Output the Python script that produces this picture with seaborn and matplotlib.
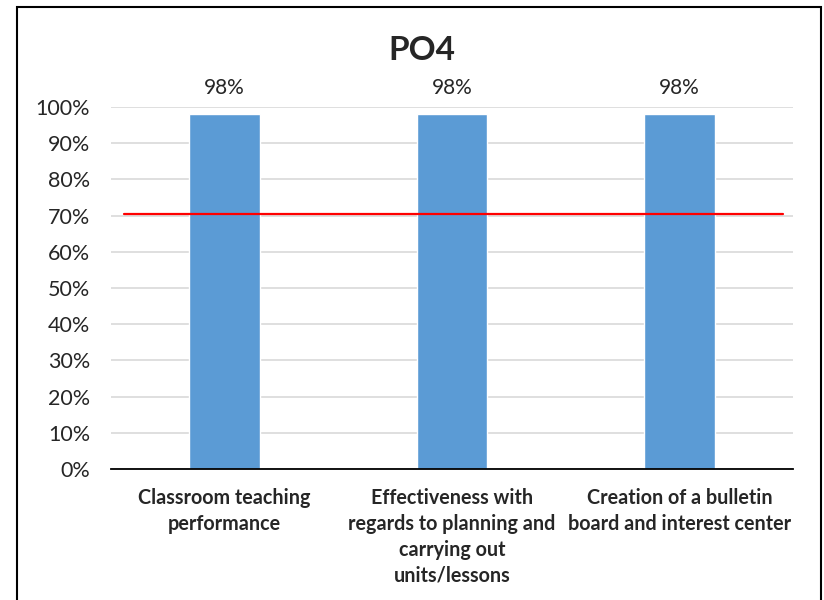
import matplotlib
matplotlib.use("Agg")
import matplotlib.pyplot as plt
import seaborn as sns
import pandas as pd
from matplotlib.patches import Rectangle

# chart data
categories = [
    "Classroom teaching\nperformance",
    "Effectiveness with\nregards to planning and\ncarrying out\nunits/lessons",
    "Creation of a bulletin\nboard and interest center",
]
scores = [98, 98, 98]
target = 70.5
y_ticks = [0, 10, 20, 30, 40, 50, 60, 70, 80, 90, 100]
tick_labels = [f"{t}%" for t in y_ticks]

df = pd.DataFrame({"item": categories, "score": scores})

sns.set_style("white")
plt.rcParams["font.family"] = ["Lato", "DejaVu Sans"]

fig = plt.figure(figsize=(8.24, 6), dpi=100)
ax = fig.add_axes([111 / 824, 1 - 469 / 600, (793 - 111) / 824, (469 - 107) / 600])

sns.barplot(data=df, x="item", y="score", color="#5B9BD5", width=0.31,
            saturation=1, ax=ax, zorder=2)

# gridlines
ax.set_ylim(0, 100)
ax.set_yticks(y_ticks)
ax.set_yticklabels(tick_labels, fontsize=15.5)
ax.yaxis.grid(True, color="#d9d9d9", linewidth=1.2, zorder=0)
ax.set_axisbelow(True)
ax.set_xlim(-0.5, 2.5)
ax.tick_params(axis="y", length=0, pad=15)
ax.tick_params(axis="x", length=0, pad=14)
for lbl in ax.get_xticklabels():
    lbl.set_fontweight("bold")
    lbl.set_fontsize(14.2)
    lbl.set_linespacing(1.36)
    lbl.set_verticalalignment("top")

for s in ["left", "right", "top"]:
    ax.spines[s].set_visible(False)
ax.spines["bottom"].set_color("black")
ax.spines["bottom"].set_linewidth(1.3)
ax.set_xlabel("")
ax.set_ylabel("")

# value labels
for i, v in enumerate(scores):
    ax.text(i, v + 4.5, f"{v}%", ha="center", va="bottom", fontsize=15)

# target line
ax.plot([-0.443, 2.456], [target, target], color="#ff0000", linewidth=1.6, zorder=3)

fig.text(422 / 824, 1 - 50 / 600, "PO4", ha="center", va="center",
         fontsize=24, fontweight="bold")

# chart border
fig.patches.append(Rectangle((17 / 824, -0.01), (821 - 17) / 824, 0.998,
                             transform=fig.transFigure, fill=False,
                             edgecolor="black", linewidth=1.5))

fig.savefig("out.png", dpi=100)
